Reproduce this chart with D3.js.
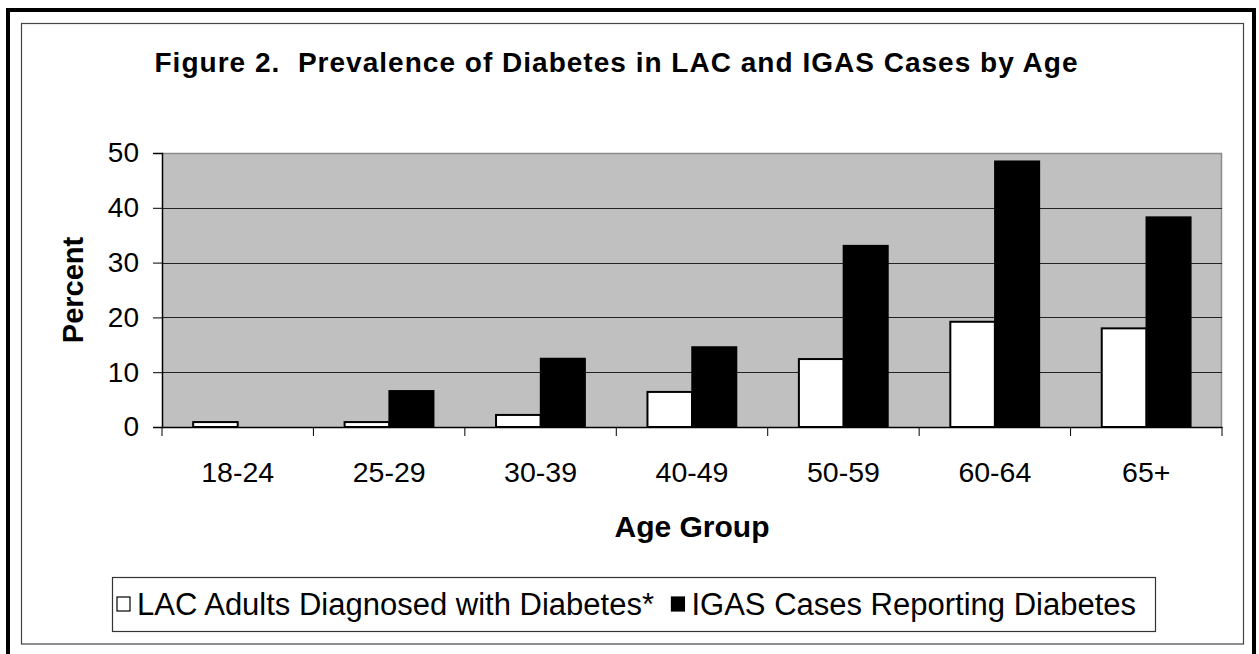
<!DOCTYPE html>
<html>
<head>
<meta charset="utf-8">
<script src="https://cdn.jsdelivr.net/npm/d3@7"></script>
<style>
  html, body { margin: 0; padding: 0; background: #fff; }
  svg { display: block; }
  svg text { font-family: "Liberation Sans", Arial, sans-serif; }
</style>
</head>
<body>
<svg id="chart" width="1259" height="654"></svg>
<script>
const categories = ["18-24", "25-29", "30-39", "40-49", "50-59", "60-64", "65+"];
const lacValues = [0.9, 0.9, 2.2, 6.4, 12.4, 19.2, 18.0];
const igasValues = [0, 6.6, 12.5, 14.6, 33.1, 48.5, 38.3];
const seriesNames = ["LAC Adults Diagnosed with Diabetes*", "IGAS Cases Reporting Diabetes"];
const yTicks = [0, 10, 20, 30, 40, 50];
const titleText = "Figure 2.  Prevalence of Diabetes in LAC and IGAS Cases by Age";
const xTitle = "Age Group";
const yTitle = "Percent";

const FONT = '"Liberation Sans", Arial, sans-serif';
const svg = d3.select("#chart");

// frames
svg.append("rect").attr("x", 8).attr("y", 10).attr("width", 1246).attr("height", 670)
  .attr("fill", "none").attr("stroke", "#000").attr("stroke-width", 4);
svg.append("rect").attr("x", 21.5).attr("y", 23.5).attr("width", 1222).attr("height", 620.5)
  .attr("fill", "none").attr("stroke", "#444").attr("stroke-width", 1.2);

// title
svg.append("text").attr("x", 616).attr("y", 72).attr("text-anchor", "middle")
  .attr("font-size", 28).attr("font-weight", "bold").attr("xml:space", "preserve")
  .style("white-space", "pre")
  .attr("textLength", 923).attr("lengthAdjust", "spacing")
  .text(titleText);

const plot = { left: 162, right: 1222, top: 153, bottom: 427 };

const x = d3.scaleBand().domain(categories).range([plot.left, plot.right]).padding(0);
const y = d3.scaleLinear().domain([0, 50]).range([plot.bottom, plot.top]);

// plot background
svg.append("rect").attr("x", plot.left).attr("y", plot.top)
  .attr("width", plot.right - plot.left).attr("height", plot.bottom - plot.top)
  .attr("fill", "#c0c0c0");
svg.append("path")
  .attr("d", `M${plot.left},${plot.top + 0.5}H${plot.right - 0.5}V${plot.bottom}`)
  .attr("fill", "none").attr("stroke", "#8a8a8a").attr("stroke-width", 1.5);

// gridlines
svg.append("g").selectAll("line").data(yTicks.filter(d => d > 0 && d < 50)).join("line")
  .attr("x1", plot.left).attr("x2", plot.right)
  .attr("y1", d => Math.round(y(d)) + 0.5).attr("y2", d => Math.round(y(d)) + 0.5)
  .attr("stroke", "#222").attr("stroke-width", 1);

// bars
const bw = x.bandwidth();
const barW = bw / 3.4;
const off = (bw - 2 * barW) / 2;
const rows = categories.map((c, i) => ({ c, lac: lacValues[i], igas: igasValues[i] }));

svg.append("g").selectAll("rect").data(rows.filter(d => d.igas > 0)).join("rect")
  .attr("x", d => x(d.c) + off + barW).attr("y", d => y(d.igas))
  .attr("width", barW).attr("height", d => y(0) - y(d.igas))
  .attr("fill", "#000").attr("stroke", "#000").attr("stroke-width", 1.5);
svg.append("g").selectAll("rect").data(rows).join("rect")
  .attr("x", d => x(d.c) + off).attr("y", d => y(d.lac))
  .attr("width", barW).attr("height", d => y(0) - y(d.lac))
  .attr("fill", "#fff").attr("stroke", "#000").attr("stroke-width", 2);

// y axis
const yAxis = svg.append("g").attr("transform", `translate(${plot.left},0)`)
  .call(d3.axisLeft(y).tickValues(yTicks).tickSize(9).tickPadding(14));
yAxis.attr("font-family", FONT);
yAxis.select(".domain").attr("stroke", "#000").attr("stroke-width", 1.5);
yAxis.selectAll(".tick line").attr("stroke", "#000");
yAxis.selectAll("text").attr("font-size", 28).attr("fill", "#000");

// x axis
const xAxis = svg.append("g").attr("transform", `translate(0,${plot.bottom})`)
  .call(d3.axisBottom(x).tickSize(0).tickPadding(0));
xAxis.attr("font-family", FONT);
xAxis.select(".domain").attr("stroke", "#000").attr("stroke-width", 1.5);
xAxis.selectAll("text").attr("font-size", 28.5).attr("fill", "#000").attr("dy", null)
  .attr("y", 55);
const bounds = categories.map(c => x(c)).concat([plot.right]);
xAxis.append("g").selectAll("line").data(bounds).join("line")
  .attr("x1", d => d).attr("x2", d => d).attr("y1", 0).attr("y2", 9)
  .attr("stroke", "#000").attr("stroke-width", 1);

// axis titles
svg.append("text").attr("x", (plot.left + plot.right) / 2).attr("y", 537)
  .attr("text-anchor", "middle").attr("font-size", 30).attr("font-weight", "bold").text(xTitle);
svg.append("text").attr("transform", `translate(83,${(plot.top + plot.bottom) / 2}) rotate(-90)`)
  .attr("text-anchor", "middle").attr("font-size", 29).attr("font-weight", "bold").text(yTitle);

// legend
const lg = { x: 112, y: 577, w: 1043, h: 54 };
svg.append("rect").attr("x", lg.x + 0.5).attr("y", lg.y + 0.5).attr("width", lg.w).attr("height", lg.h)
  .attr("fill", "#fff").attr("stroke", "#333").attr("stroke-width", 1.2);
const legendFills = ["#fff", "#000"];
const legendStart = lg.x + 5, legendEnd = lg.x + lg.w - 19;
const items = seriesNames.map((name, i) => {
  const g = svg.append("g");
  g.append("rect").attr("x", 0).attr("y", 597).attr("width", 13).attr("height", 14)
    .attr("fill", legendFills[i]).attr("stroke", "#000").attr("stroke-width", 1.2);
  const t = g.append("text").attr("x", 20).attr("y", 614.5).attr("font-size", 31).text(name);
  return { g, w: 20 + t.node().getComputedTextLength() };
});
const totalW = d3.sum(items, d => d.w);
const gap = Math.max(8, (legendEnd - legendStart - totalW) / (items.length - 1));
let lx = legendStart;
items.forEach(it => { it.g.attr("transform", `translate(${lx},0)`); lx += it.w + gap; });
</script>
</body>
</html>
